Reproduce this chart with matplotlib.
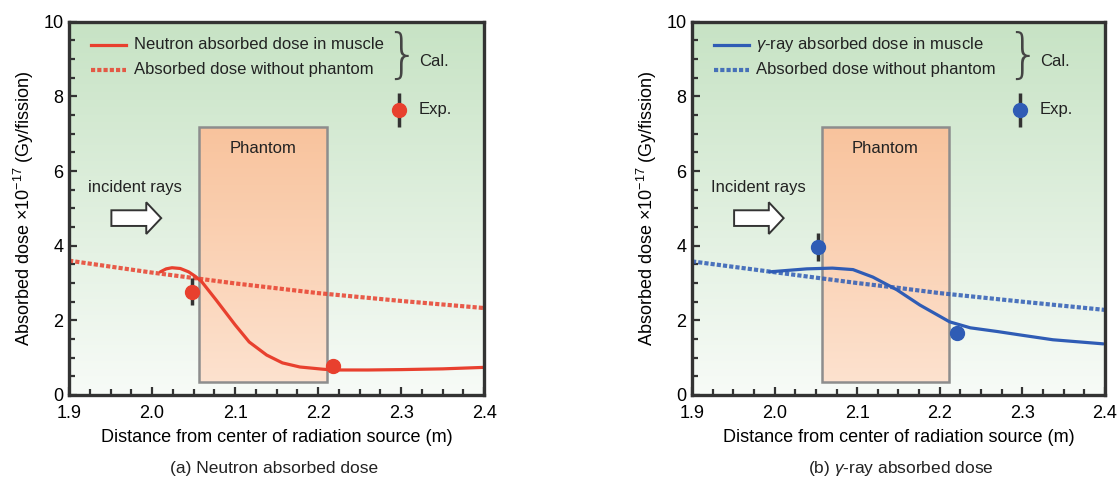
import matplotlib
matplotlib.use("Agg")
import matplotlib.pyplot as plt
import numpy as np
from matplotlib.patches import Rectangle, FancyArrow
from matplotlib.ticker import MultipleLocator

plt.rcParams['font.family'] = ['Liberation Sans', 'DejaVu Sans']
plt.rcParams['mathtext.fontset'] = 'custom'
plt.rcParams['mathtext.it'] = 'Liberation Sans:italic'
plt.rcParams['mathtext.rm'] = 'Liberation Sans'

# neutron panel
n_x = [2.010, 2.017, 2.024, 2.034, 2.044, 2.052, 2.060, 2.077, 2.100, 2.117, 2.138, 2.157, 2.178, 2.206, 2.220, 2.260, 2.300, 2.350, 2.400]
n_y = [3.30, 3.38, 3.41, 3.39, 3.30, 3.18, 3.03, 2.55, 1.88, 1.42, 1.07, 0.86, 0.75, 0.69, 0.67, 0.67, 0.68, 0.70, 0.74]
n_free_x = [1.90, 2.00, 2.10, 2.20, 2.30, 2.40]
n_free_y = [3.60, 3.28, 2.99, 2.73, 2.52, 2.33]
n_exp_x = [2.048, 2.218]
n_exp_y = [2.77, 0.78]
n_exp_err = [0.36, 0.0]

# gamma panel
g_x = [1.994, 2.039, 2.070, 2.095, 2.119, 2.148, 2.176, 2.212, 2.237, 2.270, 2.297, 2.337, 2.398]
g_y = [3.30, 3.38, 3.40, 3.36, 3.16, 2.82, 2.41, 1.96, 1.80, 1.70, 1.61, 1.48, 1.37]
g_free_x = [1.90, 2.00, 2.10, 2.15, 2.20, 2.30, 2.40]
g_free_y = [3.58, 3.29, 3.00, 2.87, 2.73, 2.50, 2.28]
g_exp_x = [2.053, 2.221]
g_exp_y = [3.97, 1.66]
g_exp_err = [0.38, 0.0]

red = '#e8402e'
blue = '#2f5cb5'

fig = plt.figure(figsize=(11.19, 4.79), dpi=100)
ax1 = fig.add_axes([0.0617, 0.1754, 0.371, 0.779])
ax2 = fig.add_axes([0.6184, 0.1754, 0.369, 0.779])

fs = 12
fl = 13


def panel(ax, cx, cy, fx, fy, ex, ey, ee, col, lab1, rays):
    # background gradient
    grad = np.linspace(0, 1, 256).reshape(-1, 1)
    top = np.array([0.78, 0.89, 0.77])
    bot = np.array([0.97, 0.985, 0.97])
    img = bot + (top - bot) * grad[:, :, None] * np.ones((1, 2, 1))
    ax.imshow(img, extent=[1.9, 2.4, 0, 10], origin='lower', aspect='auto', zorder=0)
    # phantom
    pg = np.linspace(0, 1, 256).reshape(-1, 1)
    ptop = np.array([0.975, 0.765, 0.615])
    pbot = np.array([0.99, 0.885, 0.81])
    pimg = pbot + (ptop - pbot) * pg[:, :, None] * np.ones((1, 2, 1))
    ax.imshow(pimg, extent=[2.057, 2.211, 0.35, 7.18], origin='lower', aspect='auto', zorder=1)
    ax.add_patch(Rectangle((2.057, 0.35), 0.154, 6.83, fill=False, ec='#8d8d8d', lw=1.8, zorder=2))
    ax.text(2.134, 6.6, 'Phantom', ha='center', va='center', fontsize=fs, color='#222222', zorder=3)
    ax.set_xlim(1.9, 2.4)
    ax.set_ylim(0, 10)

    # curves
    ax.plot(fx, fy, ls=(0, (1.0, 0.5)), lw=3, color=col, alpha=0.85, zorder=4)
    ax.plot(cx, cy, '-', lw=2.3, color=col, zorder=5, solid_capstyle='round',
            solid_joinstyle='round')
    ax.errorbar(ex, ey, yerr=ee, fmt='o', color=col, ms=10, ecolor='#333333',
                elinewidth=2.5, capsize=0, zorder=6)

    # legend drawn by hand
    ax.plot([1.927, 1.969], [9.38, 9.38], '-', lw=2.3, color=col, zorder=5)
    ax.plot([1.927, 1.969], [8.71, 8.71], ls=(0, (1.0, 0.5)), lw=3, color=col, alpha=0.85, zorder=5)
    ax.text(1.978, 9.40, lab1, va='center', fontsize=fs, color='#222222')
    ax.text(1.978, 8.73, 'Absorbed dose without phantom', va='center', fontsize=fs, color='#222222')
    ax.text(2.301, 9.05, '}', va='center', ha='center', fontsize=38, color='#444444',
            family='DejaVu Sans', fontweight='light')
    ax.text(2.322, 8.95, 'Cal.', va='center', fontsize=fs, color='#222222')
    ax.errorbar([2.297], [7.64], yerr=[0.45], fmt='o', color=col, ms=10, ecolor='#333333',
                elinewidth=2.5, capsize=0, zorder=6)
    ax.text(2.321, 7.64, 'Exp.', va='center', fontsize=fs, color='#222222')

    # incident rays
    ax.text(1.923, 5.55, rays, va='center', fontsize=fs, color='#222222')
    ax.add_patch(FancyArrow(1.951, 4.74, 0.06, 0, width=0.42, head_width=0.85,
                            head_length=0.018, length_includes_head=True,
                            fc='white', ec='#333333', lw=1.4, zorder=4))

    ax.xaxis.set_minor_locator(MultipleLocator(0.025))
    ax.yaxis.set_major_locator(MultipleLocator(2))
    ax.yaxis.set_minor_locator(MultipleLocator(0.5))
    ax.set_xticks([1.9, 2.0, 2.1, 2.2, 2.3, 2.4])
    ax.set_xticklabels(['1.9', '2.0', '2.1', '2.2', '2.3', '2.4'])
    ax.tick_params(which='both', direction='in', top=False, right=False,
                   width=1.6, color='#333333', labelsize=fl)
    ax.tick_params(axis='x', which='major', length=6, pad=7)
    ax.tick_params(axis='y', which='major', length=6, pad=4)
    ax.tick_params(which='minor', length=4)
    for s in ax.spines.values():
        s.set_linewidth(2.4)
        s.set_color('#333333')
        s.set_zorder(10)
    ax.set_xlabel('Distance from center of radiation source (m)', fontsize=fl, labelpad=5)
    ax.set_ylabel('Absorbed dose $\\times$10$^{\\mathrm{-17}}$ (Gy/fission)', fontsize=fl, labelpad=5)


panel(ax1, n_x, n_y, n_free_x, n_free_y, n_exp_x, n_exp_y, n_exp_err, red,
      'Neutron absorbed dose in muscle', 'incident rays')
panel(ax2, g_x, g_y, g_free_x, g_free_y, g_exp_x, g_exp_y, g_exp_err, blue,
      '$\\gamma$-ray absorbed dose in muscle', 'Incident rays')

fig.text(0.245, 0.022, '(a) Neutron absorbed dose', ha='center', va='center', fontsize=12.5, color='#222222')
fig.text(0.805, 0.022, '(b) $\\gamma$-ray absorbed dose', ha='center', va='center', fontsize=12.5, color='#222222')

fig.savefig('out.png', dpi=100)
